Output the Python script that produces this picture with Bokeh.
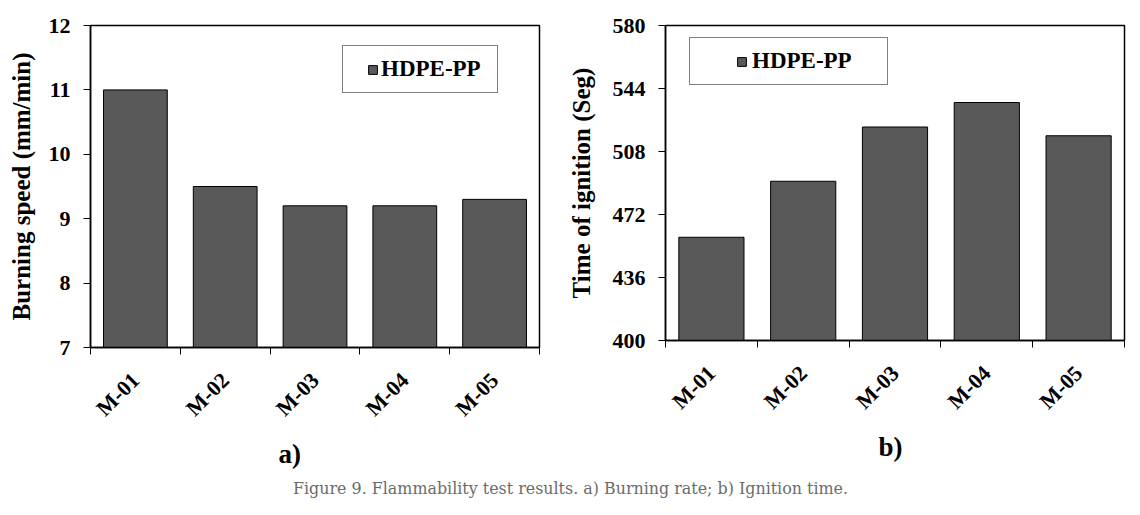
import math
from bokeh.plotting import figure
from bokeh.models import FixedTicker, Title, Legend, LegendItem, Div, Range1d
from bokeh.layouts import column, row
from bokeh.embed import file_html
from bokeh.resources import INLINE

# ---- data ----
categories = ["M-01", "M-02", "M-03", "M-04", "M-05"]
burning_speed = [11.0, 9.5, 9.2, 9.2, 9.3]          # mm/min
ignition_time = [459, 491, 522, 536, 517]           # Seg
series_name = "HDPE-PP"
speed_ticks = [7, 8, 9, 10, 11, 12]
ignition_ticks = [400, 436, 472, 508, 544, 580]
caption = "Figure 9. Flammability test results. a) Burning rate; b) Ignition time."

FONT = "Liberation Serif"
BAR = "#595959"


def make_panel(values, ticks, ylabel, sublabel, fw, fh, borders, leg_loc,
               leg_lw, leg_gap, label_standoff, sub_offset, ylab_standoff):
    n = len(categories)
    p = figure(frame_width=fw, frame_height=fh,
               x_range=Range1d(0.5, n + 0.5),
               y_range=Range1d(ticks[0], ticks[-1]),
               output_backend="svg", toolbar_location=None,
               min_border_left=borders[0], min_border_right=borders[1],
               min_border_top=borders[2], min_border_bottom=borders[3],
               background_fill_color="white", border_fill_color="white")
    p.xgrid.visible = False
    p.ygrid.visible = False
    p.outline_line_color = "black"
    p.outline_line_width = 1.5

    xs = list(range(1, n + 1))
    r = p.vbar(x=xs, top=values, bottom=ticks[0], width=0.71,
               fill_color=BAR, line_color="black", line_width=1)

    # x axis: labels at centres, tick marks at category boundaries
    xa = p.xaxis[0]
    xa.ticker = FixedTicker(ticks=xs, minor_ticks=[x - 0.5 for x in xs] + [n + 0.5])
    xa.major_label_overrides = {x: c for x, c in zip(xs, categories)}
    xa.major_tick_out = 0
    xa.major_tick_in = 0
    xa.minor_tick_out = 7
    xa.minor_tick_in = 0
    xa.minor_tick_line_color = "black"
    xa.axis_line_color = "black"
    xa.axis_line_width = 1.5
    xa.major_label_orientation = math.pi / 4
    xa.major_label_standoff = 22
    xa.major_label_text_font = FONT
    xa.major_label_text_font_style = "bold"
    xa.major_label_text_font_size = "22px"
    xa.major_label_text_color = "black"

    ya = p.yaxis[0]
    ya.ticker = FixedTicker(ticks=ticks)
    ya.major_tick_out = 7
    ya.major_tick_in = 0
    ya.minor_tick_out = 0
    ya.minor_tick_in = 0
    ya.major_tick_line_color = "black"
    ya.axis_line_color = "black"
    ya.axis_line_width = 1.5
    ya.major_label_standoff = 13
    ya.major_label_text_font = FONT
    ya.major_label_text_font_style = "bold"
    ya.major_label_text_font_size = "22px"
    ya.major_label_text_color = "black"
    ya.axis_label = ylabel
    ya.axis_label_text_font = FONT
    ya.axis_label_text_font_style = "bold"
    ya.axis_label_text_font_size = "25px"
    ya.axis_label_text_color = "black"
    ya.axis_label_standoff = ylab_standoff

    legend = Legend(items=[LegendItem(label=series_name, renderers=[r])],
                    location=leg_loc, padding=10, spacing=0, margin=0,
                    glyph_width=11, glyph_height=11, label_standoff=label_standoff,
                    label_width=leg_lw, label_height=24,
                    label_text_font=FONT, label_text_font_style="bold",
                    label_text_font_size="23px", label_text_color="black",
                    border_line_color="black", border_line_width=1,
                    background_fill_color="white", background_fill_alpha=1,
                    title=" ", title_location="left", title_text_font_size="1px",
                    title_standoff=leg_gap)
    p.add_layout(legend)

    p.add_layout(Title(text=sublabel, align="left", offset=sub_offset,
                       text_font=FONT, text_font_style="bold",
                       text_font_size="27px", text_color="black",
                       standoff=9), "below")
    return p


p1 = make_panel(burning_speed, speed_ticks, "Burning speed (mm/min)", "a)",
                449, 322, (90, 25, 25, 127), (252, 254), 106, 13, 3, 188, 11)
p2 = make_panel(ignition_time, ignition_ticks, "Time of ignition (Seg)", "b)",
                459, 315, (100, 8, 25, 134), (24, 255), 125, 35, 5, 213, 15)

cap = Div(text=caption, width=1131, height=32,
          styles={"text-align": "center", "font-family": "DejaVu Serif",
                  "font-size": "15.9px", "color": "#6b6b6b",
                  "line-height": "20px", "width": "1131px"})

layout = column(row(p1, p2), cap)
open("out.html", "w").write(file_html(layout, INLINE))
